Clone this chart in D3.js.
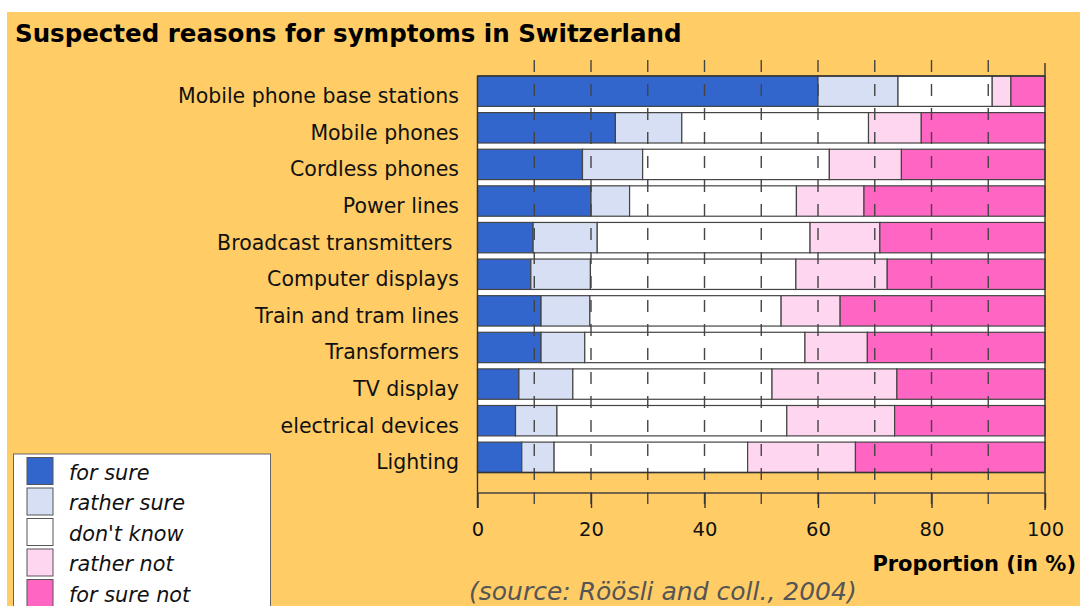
<!DOCTYPE html>
<html>
<head>
<meta charset="utf-8">
<script src="https://cdn.jsdelivr.net/npm/d3@7"></script>
<style>
  body { margin: 0; background: #fff; }
  svg { display: block; font-family: 'DejaVu Sans', Verdana, sans-serif; }
</style>
</head>
<body>
<script>
const categories = [
  'Mobile phone base stations', 'Mobile phones', 'Cordless phones', 'Power lines',
  'Broadcast transmitters\u00a0', 'Computer displays', 'Train and tram lines',
  'Transformers', 'TV display', 'electrical devices', 'Lighting',
];
const forSure = [60.0, 24.3, 18.5, 20.0, 9.8, 9.4, 11.2, 11.2, 7.3, 6.7, 7.8];
const ratherSure = [14.1, 11.7, 10.6, 6.8, 11.3, 10.5, 8.6, 7.7, 9.5, 7.3, 5.7];
const dontKnow = [16.6, 32.9, 32.9, 29.4, 37.5, 36.2, 33.7, 38.8, 35.1, 40.5, 34.1];
const ratherNot = [3.3, 9.3, 12.7, 11.9, 12.3, 16.1, 10.4, 11.0, 22.0, 19.0, 19.0];
const forSureNot = [6.0, 21.8, 25.3, 31.9, 29.1, 27.8, 36.1, 31.3, 26.1, 26.5, 33.4];

const seriesNames = ['for sure', 'rather sure', "don't know", 'rather not', 'for sure not'];
const seriesColors = ['#3366cc', '#d6dff3', '#ffffff', '#ffd6ef', '#ff66c4'];
const xTicks = [0, 20, 40, 60, 80, 100];
const gridTicks = [10, 20, 30, 40, 50, 60, 70, 80, 90];

const width = 1080;
const height = 606;
const plotLeft = 477.5;
const plotRight = 1045;
const plotTop = 76;
const plotBottom = 472.5;
const axisY = 493;

const rows = categories.map((name, i) => ({
  name,
  s0: forSure[i],
  s1: ratherSure[i],
  s2: dontKnow[i],
  s3: ratherNot[i],
  s4: forSureNot[i],
}));
const keys = ['s0', 's1', 's2', 's3', 's4'];

const x = d3.scaleLinear().domain([0, 100]).range([plotLeft, plotRight]);
const y = d3.scaleBand().domain(categories).range([plotTop, plotBottom])
  .paddingInner(0.17)
  .paddingOuter(0);

const stacked = d3.stack().keys(keys)(rows);

const svg = d3.select('body').append('svg')
  .attr('width', width)
  .attr('height', height);

svg.append('rect')
  .attr('x', 7)
  .attr('y', 12)
  .attr('width', width - 7)
  .attr('height', height - 12)
  .attr('fill', '#ffcc66');

svg.append('text')
  .attr('x', 15)
  .attr('y', 42)
  .attr('font-size', 24.5)
  .attr('font-weight', 'bold')
  .attr('fill', '#000')
  .text('Suspected reasons for symptoms in Switzerland');

// plot background
svg.append('rect')
  .attr('x', plotLeft)
  .attr('y', plotTop)
  .attr('width', plotRight - plotLeft)
  .attr('height', plotBottom - plotTop)
  .attr('fill', '#fff');

svg.append('g')
  .selectAll('g')
  .data(stacked)
  .enter()
  .append('g')
  .attr('fill', (d, i) => seriesColors[i])
  .selectAll('rect')
  .data(d => d)
  .enter()
  .append('rect')
  .attr('x', d => x(d[0]))
  .attr('y', d => y(d.data.name))
  .attr('width', d => x(d[1]) - x(d[0]))
  .attr('height', y.bandwidth())
  .attr('stroke', '#444')
  .attr('stroke-width', 1.2);

// dashed grid
svg.append('g')
  .selectAll('line')
  .data(gridTicks)
  .enter()
  .append('line')
  .attr('x1', d => x(d))
  .attr('x2', d => x(d))
  .attr('y1', 60)
  .attr('y2', 510)
  .attr('stroke', '#444')
  .attr('stroke-width', 1.4)
  .attr('stroke-dasharray', '12,12');

// frame
svg.append('line')
  .attr('x1', plotLeft).attr('x2', plotLeft)
  .attr('y1', plotTop).attr('y2', 508)
  .attr('stroke', '#333')
  .attr('stroke-width', 1.4);
svg.append('line')
  .attr('x1', plotRight).attr('x2', plotRight)
  .attr('y1', 63).attr('y2', 510)
  .attr('stroke', '#333')
  .attr('stroke-width', 1.4);
svg.append('line')
  .attr('x1', plotLeft).attr('x2', plotRight)
  .attr('y1', plotTop).attr('y2', plotTop)
  .attr('stroke', '#333')
  .attr('stroke-width', 1.4);
svg.append('line')
  .attr('x1', plotLeft).attr('x2', plotRight)
  .attr('y1', plotBottom).attr('y2', plotBottom)
  .attr('stroke', '#333')
  .attr('stroke-width', 1.4);

const xAxis = d3.axisBottom(x)
  .tickValues(xTicks)
  .tickSize(15)
  .tickPadding(14)
  .tickFormat(d3.format('d'));

const gx = svg.append('g')
  .attr('transform', `translate(0, ${axisY})`)
  .call(xAxis);
gx.select('.domain')
  .attr('stroke', '#444')
  .attr('stroke-width', 1.4)
  .attr('d', `M${plotLeft},0H${plotRight}`);
gx.selectAll('.tick line')
  .attr('stroke', '#333')
  .attr('stroke-width', 1.4);
gx.selectAll('.tick text')
  .attr('font-size', 19.5)
  .attr('font-family', "'DejaVu Sans', Verdana, sans-serif")
  .attr('fill', '#111');

// category labels
svg.append('g')
  .selectAll('text')
  .data(categories)
  .enter()
  .append('text')
  .attr('x', 459)
  .attr('y', d => y(d) + y.bandwidth() / 2 + 12)
  .attr('text-anchor', 'end')
  .attr('font-size', 20.5)
  .attr('fill', '#111')
  .style('white-space', 'pre')
  .text(d => d);

svg.append('text')
  .attr('x', 1076)
  .attr('y', 571)
  .attr('text-anchor', 'end')
  .attr('font-size', 21)
  .attr('font-weight', 'bold')
  .attr('fill', '#000')
  .text('Proportion (in %)');

svg.append('text')
  .attr('x', 469)
  .attr('y', 600)
  .attr('font-size', 25)
  .attr('font-style', 'italic')
  .attr('fill', '#555')
  .text('(source: Röösli and coll., 2004)');

// legend
const legend = svg.append('g');
legend.append('rect')
  .attr('x', 13.5)
  .attr('y', 454)
  .attr('width', 257)
  .attr('height', 170)
  .attr('fill', '#fff')
  .attr('stroke', '#666')
  .attr('stroke-width', 1);

const items = legend.selectAll('g')
  .data(seriesNames)
  .enter()
  .append('g')
  .attr('transform', (d, i) => `translate(27, ${457.5 + i * 30.5})`);

items.append('rect')
  .attr('width', 26)
  .attr('height', 27)
  .attr('fill', (d, i) => seriesColors[i])
  .attr('stroke', '#555')
  .attr('stroke-width', 1);

items.append('text')
  .attr('x', 42)
  .attr('y', 22)
  .attr('font-size', 20.8)
  .attr('font-style', 'italic')
  .attr('fill', '#111')
  .text(d => d);
</script>
</body>
</html>
